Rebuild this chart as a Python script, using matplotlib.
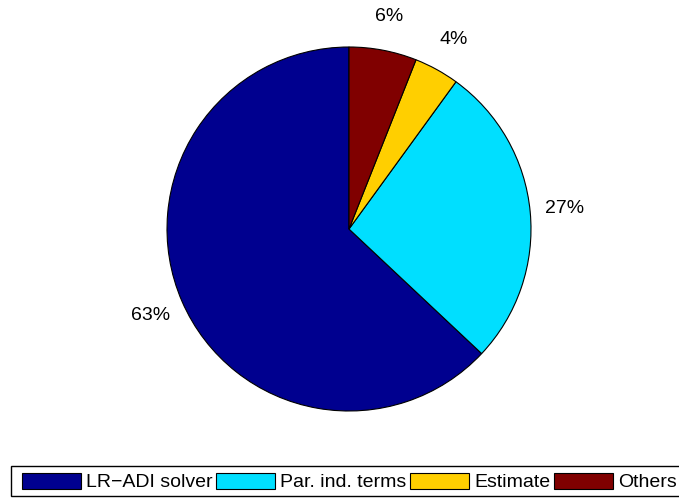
import matplotlib
matplotlib.use("Agg")
import matplotlib.pyplot as plt
from matplotlib.patches import Rectangle

# Share of total run time per component
labels = ["LR\u2212ADI solver", "Par. ind. terms", "Estimate", "Others"]
shares = [63, 27, 4, 6]
colors = ["#00008F", "#00DFFF", "#FFCF00", "#800000"]

plt.rcParams["font.family"] = ["Liberation Sans", "DejaVu Sans"]

W, H = 679, 498
fig = plt.figure(figsize=(W / 100, H / 100), dpi=100)

# Axes placed so the unit-radius pie is centred at (349, 229) px with radius 182 px
cx, cy, R = 349, 229, 182
lim = 1.3
left = (cx - lim * R) / W
bottom = (H - (cy + lim * R)) / H
ax = fig.add_axes([left, bottom, 2 * lim * R / W, 2 * lim * R / H])

wedges, texts, autotexts = ax.pie(
    shares,
    colors=colors,
    startangle=90,
    counterclock=True,
    autopct=lambda p: f"{p:.0f}%",
    pctdistance=1.19,
    wedgeprops=dict(edgecolor="black", linewidth=0.8),
    textprops=dict(fontsize=14, color="black"),
)
ax.set_xlim(-lim, lim)
ax.set_ylim(-lim, lim)
ax.set_aspect("auto")
ax.axis("off")

# Legend box running along the bottom edge (extends past the right border)
box_l, box_t, box_r, box_b = 11, 466, 700, 496
fig.patches.append(
    Rectangle(
        (box_l / W, (H - box_b) / H),
        (box_r - box_l) / W,
        (box_b - box_t) / H,
        transform=fig.transFigure,
        facecolor="white",
        edgecolor="black",
        linewidth=1.0,
        zorder=0,
    )
)

leg = fig.legend(
    wedges,
    labels,
    loc="center left",
    bbox_to_anchor=(22 / W, (H - 482) / H),
    ncol=4,
    fontsize=14,
    frameon=False,
    handlelength=3.03,
    handleheight=0.93,
    handletextpad=0.25,
    columnspacing=0.2,
    borderpad=0,
    borderaxespad=0,
)

fig.savefig("out.png", dpi=100)
